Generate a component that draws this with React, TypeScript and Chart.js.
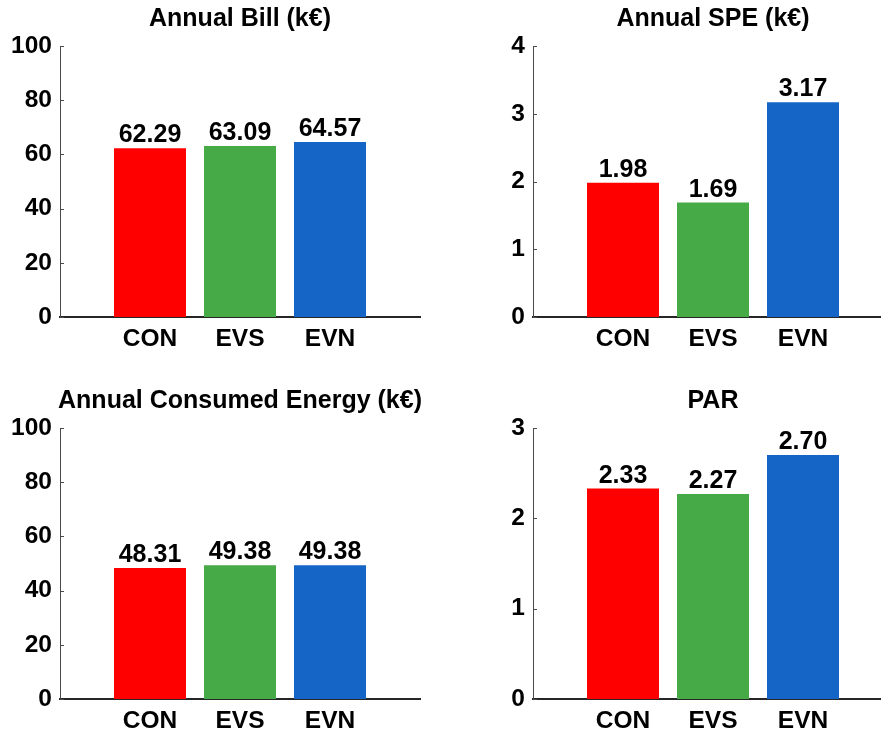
import React, { useEffect, useRef } from 'react';
import { Chart, registerables } from 'chart.js';

Chart.register(...registerables);

// ---- data ----
const categories = ['CON', 'EVS', 'EVN'];
const barColors = ['#FF0000', '#46AA46', '#1565C6'];
const billValues = [62.29, 63.09, 64.57];
const speValues = [1.98, 1.69, 3.17];
const energyValues = [48.31, 49.38, 49.38];
const parValues = [2.33, 2.27, 2.7];
const panelTitles = ['Annual Bill (k€)', 'Annual SPE (k€)', 'Annual Consumed Energy (k€)', 'PAR'];
const panelValues = [billValues, speValues, energyValues, parValues];
const yMaxima = [100, 4, 100, 3];
const ySteps = [20, 1, 20, 1];

// ---- layout (pixels) ----
type Geo = { left: number; top: number; w: number; h: number; axisLeft: number; chartTop: number; chartBottom: number; chartRight: number };
const geos: Geo[] = [
  { left: 0, top: 0, w: 440, h: 368, axisLeft: 60, chartTop: 46, chartBottom: 317, chartRight: 420 },
  { left: 440, top: 0, w: 460, h: 368, axisLeft: 93, chartTop: 46, chartBottom: 317, chartRight: 453 },
  { left: 0, top: 368, w: 440, h: 369, axisLeft: 60, chartTop: 60, chartBottom: 331, chartRight: 420 },
  { left: 440, top: 368, w: 460, h: 369, axisLeft: 93, chartTop: 60, chartBottom: 331, chartRight: 453 },
];

const FONT_FAMILY = '"Liberation Sans", Arial, Helvetica, sans-serif';
const AXIS_COLOR = '#262626';
const Y_AXIS_COLOR = '#4a4a4a';

const annotatePlugin = {
  id: 'annotate',
  afterDraw(chart: any, _args: any, opts: any) {
    const { ctx, chartArea } = chart;
    const ys = chart.scales.y;
    ctx.save();
    ctx.strokeStyle = Y_AXIS_COLOR;
    ctx.lineWidth = 1;
    ys.ticks.forEach((t: any) => {
      const py = Math.round(ys.getPixelForValue(t.value)) + 0.5;
      ctx.beginPath();
      ctx.moveTo(chartArea.left, py);
      ctx.lineTo(chartArea.left + 4, py);
      ctx.stroke();
    });
    ctx.fillStyle = '#000';
    ctx.font = `bold 25px ${FONT_FAMILY}`;
    ctx.textAlign = 'center';
    ctx.textBaseline = 'alphabetic';
    ctx.fillText(opts.title, (chartArea.left + chartArea.right) / 2, chartArea.top - 20);
    const meta = chart.getDatasetMeta(0);
    const data = chart.data.datasets[0].data;
    meta.data.forEach((bar: any, i: number) => {
      ctx.fillText(Number(data[i].y).toFixed(2), bar.x, bar.y - 6);
    });
    ctx.restore();
  },
};

function Panel({ idx }: { idx: number }) {
  const ref = useRef<HTMLCanvasElement | null>(null);
  const g = geos[idx];
  useEffect(() => {
    if (!ref.current) return;
    const values = panelValues[idx];
    const chart = new Chart(ref.current, {
      type: 'bar',
      data: {
        datasets: [
          {
            data: categories.map((_c, i) => ({ x: i + 1, y: values[i] })),
            backgroundColor: barColors,
            borderWidth: 0,
            barPercentage: 0.8,
            categoryPercentage: 1,
          },
        ],
      },
      plugins: [annotatePlugin],
      options: {
        animation: false,
        responsive: false,
        maintainAspectRatio: false,
        events: [],
        layout: { padding: { top: g.chartTop, right: g.w - g.chartRight, left: 0, bottom: 0 } },
        plugins: {
          legend: { display: false },
          tooltip: { enabled: false },
          title: { display: false },
          annotate: { title: panelTitles[idx] },
        } as any,
        scales: {
          x: {
            type: 'linear',
            min: 0,
            max: 4,
            offset: false,
            grid: { display: false, drawTicks: false, offset: false },
            border: { display: true, color: AXIS_COLOR, width: 2 },
            afterBuildTicks: (s: any) => {
              s.ticks = categories.map((_c, i) => ({ value: i + 1 }));
            },
            afterFit: (s: any) => {
              s.height = g.h - g.chartBottom;
            },
            ticks: {
              color: '#000',
              padding: 8,
              maxRotation: 0,
              autoSkip: false,
              font: { family: FONT_FAMILY, size: 24.5, weight: 'bold' },
              callback: (v: any) => categories[Math.round(Number(v)) - 1] ?? '',
            },
          },
          y: {
            type: 'linear',
            min: 0,
            max: yMaxima[idx],
            grid: { display: false, drawTicks: false },
            border: { display: true, color: Y_AXIS_COLOR, width: 1 },
            afterFit: (s: any) => {
              s.width = g.axisLeft;
            },
            ticks: {
              stepSize: ySteps[idx],
              color: '#000',
              padding: 8,
              font: { family: FONT_FAMILY, size: 24.5, weight: 'bold' },
            },
          },
        },
      } as any,
    });
    return () => chart.destroy();
  }, [idx]);
  return (
    <canvas
      ref={ref}
      width={g.w}
      height={g.h}
      style={{ position: 'absolute', left: g.left, top: g.top, width: g.w, height: g.h, display: 'block' }}
    />
  );
}

export default function App() {
  return (
    <div
      style={{
        position: 'absolute',
        left: 0,
        top: 0,
        width: 881,
        height: 737,
        overflow: 'hidden',
        background: '#fff',
      }}
    >
      {[0, 1, 2, 3].map((i) => (
        <Panel key={i} idx={i} />
      ))}
    </div>
  );
}
